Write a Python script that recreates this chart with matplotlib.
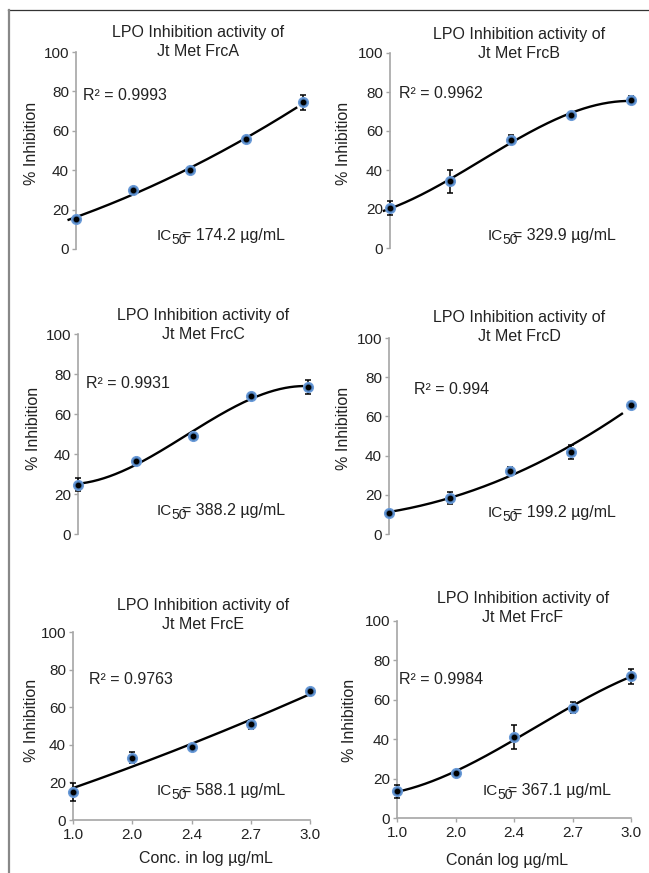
import matplotlib
matplotlib.use("Agg")
import matplotlib.pyplot as plt
from matplotlib.lines import Line2D
import numpy as np

plt.rcParams['font.family'] = ['Liberation Sans', 'DejaVu Sans']
plt.rcParams['font.size'] = 11

W, H = 649, 873

# data
x_labels = ['1.0', '2.0', '2.4', '2.7', '3.0']
names = ['FrcA', 'FrcB', 'FrcC', 'FrcD', 'FrcE', 'FrcF']
inh_A = [15.3, 29.7, 40.1, 55.6, 74.4]
err_A = [1.2, 1.0, 1.0, 1.5, 3.8]
inh_B = [20.5, 34.2, 55.6, 68.0, 75.7]
err_B = [3.4, 5.8, 2.5, 1.0, 2.0]
inh_C = [24.7, 36.3, 48.8, 69.2, 73.5]
err_C = [3.3, 1.0, 1.5, 1.5, 3.3]
inh_D = [10.9, 18.2, 32.1, 41.9, 65.7]
err_D = [1.0, 3.0, 2.0, 3.7, 1.0]
inh_E = [14.9, 33.1, 38.9, 50.8, 68.5]
err_E = [4.7, 3.0, 1.0, 2.5, 1.0]
inh_F = [13.5, 22.8, 41.0, 56.0, 72.0]
err_F = [3.2, 1.0, 6.0, 2.8, 3.8]
r2 = ['0.9993', '0.9962', '0.9931', '0.994', '0.9763', '0.9984']
ic50 = ['174.2', '329.9', '388.2', '199.2', '588.1', '367.1']
trend_order = [2, 3, 3, 2, 2, 3]

series = [inh_A, inh_B, inh_C, inh_D, inh_E, inh_F]
errors = [err_A, err_B, err_C, err_D, err_E, err_F]

# layout in pixels: axes (left, right, top(100), bottom(0))
boxes = [(76, 303, 52, 249), (390, 631, 53, 248),
         (78, 308, 334, 534), (389, 631, 338, 534),
         (73, 310, 632, 820), (397, 631, 621, 818)]
title_pos = [(198, 42), (519, 44), (203, 325), (519, 327), (203, 615), (523, 608)]
r2_pos = [(83, 96), (399, 93), (86, 383), (414, 390), (89, 680), (399, 679)]
ic_pos = [(157, 240), (488, 240), (157, 515), (488, 517), (157, 795), (483, 795)]
ylab_pos = [(32, 143), (343, 143), (33, 428), (343, 428), (32, 720), (350, 720)]
xrange_fit = [(-0.13, 3.88), (-0.1, 4.0), (0.0, 3.9), (0.0, 3.85), (0.0, 4.0), (0.0, 4.0)]

txt = '#222222'
gray = '#a6a6a6'
fs = 11.5

fig = plt.figure(figsize=(W / 100, H / 100), dpi=100)

def fx(px):
    return px / W

def fy(py):
    return 1 - py / H

for i in range(6):
    l, r, t, b = boxes[i]
    ax = fig.add_axes([fx(l), fy(b), (r - l) / W, (b - t) / H])
    xs = np.arange(5)
    ys = np.array(series[i])

    # polynomial trendline
    coef = np.polyfit(xs, ys, trend_order[i])
    xf = np.linspace(xrange_fit[i][0], xrange_fit[i][1], 200)
    ax.plot(xf, np.polyval(coef, xf), color='black', lw=1.7, clip_on=False, zorder=2)

    ax.errorbar(xs, ys, yerr=errors[i], fmt='none', ecolor='black', elinewidth=1.1,
                capsize=2.5, capthick=1.1, clip_on=False, zorder=3)
    ax.plot(xs, ys, 'o', ms=7, color='#4f81bd', mec='#6b9bd8', clip_on=False, zorder=4)
    ax.plot(xs, ys, 'o', ms=3.2, color='black', clip_on=False, zorder=5)

    ax.set_xlim(0, 4)
    ax.set_ylim(0, 100)
    ax.set_yticks([0, 20, 40, 60, 80, 100])
    for s in ['top', 'right']:
        ax.spines[s].set_visible(False)
    ax.spines['left'].set_color(gray)
    ax.spines['left'].set_linewidth(1.2)
    ax.tick_params(axis='y', direction='out', length=3, width=1, color=gray,
                   labelcolor=txt, labelsize=11, pad=2)
    if i >= 4:
        ax.spines['bottom'].set_color(gray)
        ax.spines['bottom'].set_linewidth(1.2)
        ax.set_xticks(xs)
        ax.set_xticklabels(x_labels)
        ax.tick_params(axis='x', direction='out', length=3, width=1, color=gray,
                       labelcolor=txt, labelsize=11, pad=3)
    else:
        ax.spines['bottom'].set_visible(False)
        ax.set_xticks([])
    ax.patch.set_alpha(0)

    tx, ty = title_pos[i]
    fig.text(fx(tx), fy(ty), 'LPO Inhibition activity of\nJt Met ' + names[i],
             ha='center', va='center', fontsize=fs, color=txt, linespacing=1.3)
    rx, ry = r2_pos[i]
    fig.text(fx(rx), fy(ry), 'R² = ' + r2[i], ha='left', va='center', fontsize=fs, color=txt)
    # IC50 label (baseline aligned, subscript dropped a little)
    ix, iy = ic_pos[i]
    fig.text(fx(ix), fy(iy), 'IC', ha='left', va='baseline', fontsize=11, color=txt)
    fig.text(fx(ix + 14), fy(iy + 4), '50', ha='left', va='baseline', fontsize=10, color=txt)
    fig.text(fx(ix + 25), fy(iy), '= ' + ic50[i] + ' µg/mL', ha='left', va='baseline',
             fontsize=fs, color=txt)
    lx, ly = ylab_pos[i]
    fig.text(fx(lx), fy(ly), '% Inhibition', ha='center', va='center', rotation=90,
             fontsize=fs, color=txt)

fig.text(fx(206), fy(858), 'Conc. in log µg/mL', ha='center', va='center', fontsize=fs, color=txt)
fig.text(fx(507), fy(860), 'Conán log µg/mL', ha='center', va='center', fontsize=fs, color=txt)

# outer frame lines
fig.add_artist(Line2D([fx(8), 1], [fy(10), fy(10)], color='#333333', lw=0.9))
fig.add_artist(Line2D([fx(9), fx(9)], [fy(10), 0], color='#888888', lw=1.6))

fig.savefig('out.png', dpi=100)
